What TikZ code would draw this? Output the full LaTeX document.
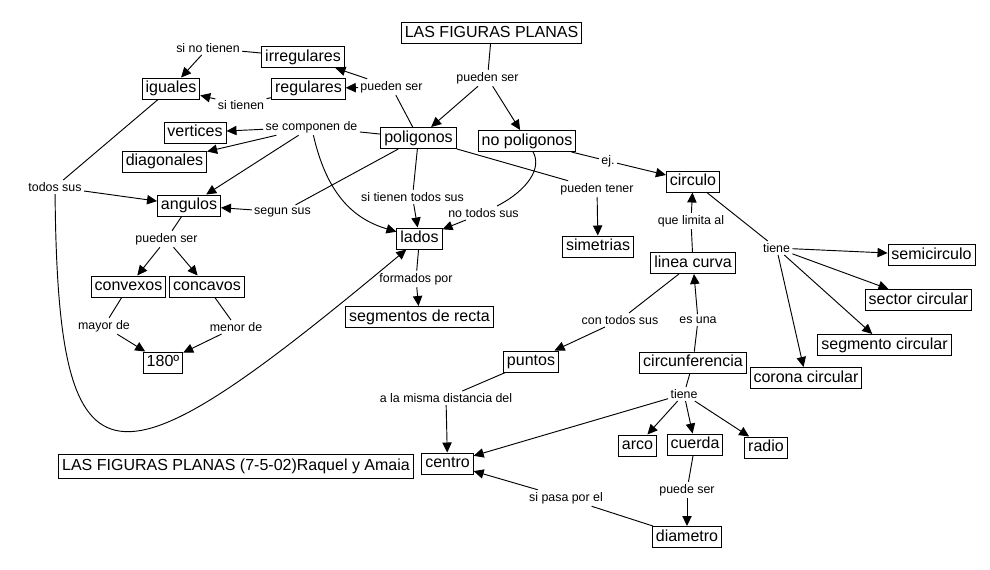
\documentclass[tikz,border=0pt]{standalone}
\usepackage{fontspec}
\setmainfont{Liberation Sans}
\usetikzlibrary{arrows.meta}

\begin{document}
\begin{tikzpicture}[x=0.75pt,y=-0.75pt,line width=0.7pt,
    >={Triangle[length=7.5pt,width=7pt]},
    concept/.style={draw,font=\fontsize{12}{14}\selectfont,inner xsep=2.6pt,inner ysep=2.2pt,text height=8.8pt,text depth=2.6pt},
    link/.style={font=\fontsize{9.3}{11}\selectfont,inner sep=1.5pt}]
    \useasboundingbox (0,0) rectangle (990,569);
    \node[concept] (Fig) at (491.5,33) {LAS FIGURAS PLANAS};
    \node[concept] (Pol) at (418.5,138) {poligonos};
    \node[concept] (NoPol) at (527,141) {no poligonos};
    \node[concept] (Irr) at (303,57) {irregulares};
    \node[concept] (Reg) at (308.5,88.5) {regulares};
    \node[concept] (Igu) at (171,88.5) {iguales};
    \node[concept] (Ver) at (195,132.5) {vertices};
    \node[concept] (Diag) at (164.5,161.5) {diagonales};
    \node[concept] (Ang) at (189,205.5) {angulos};
    \node[concept] (Lad) at (419.5,238.5) {lados};
    \node[concept] (SegR) at (419.5,317) {segmentos de recta};
    \node[concept] (Sim) at (598,246.5) {simetrias};
    \node[concept] (Circ) at (693,181.5) {circulo};
    \node[concept] (LinC) at (693,263) {linea curva};
    \node[concept] (Semi) at (931.5,255) {semicirculo};
    \node[concept] (Sect) at (918.5,300) {sector circular};
    \node[concept] (SegC) at (884.5,345) {segmento circular};
    \node[concept] (Cor) at (806,378) {corona circular};
    \node[concept] (Cfa) at (693,362.5) {circunferencia};
    \node[concept] (Pun) at (531,361.5) {puntos};
    \node[concept] (Cen) at (447.5,463.5) {centro};
    \node[concept] (Arco) at (637.5,445.5) {arco};
    \node[concept] (Cue) at (695,444.5) {cuerda};
    \node[concept] (Rad) at (766,447.5) {radio};
    \node[concept] (Diam) at (687,537) {diametro};
    \node[concept] (Cvx) at (128.5,286.5) {convexos};
    \node[concept] (Ccv) at (207,286.5) {concavos};
    \node[concept] (G180) at (163,362.5) {180º};
    \node[concept,inner ysep=3.5pt] (Tit) at (236,466.5) {LAS FIGURAS PLANAS (7-5-02)Raquel y Amaia};
    \node[link] (L1) at (487.5,78) {pueden ser};
    \node[link] (L2) at (391.5,87) {pueden ser};
    \node[link] (L3) at (208,48) {si no tienen};
    \node[link] (L4) at (241,105) {si tienen};
    \node[link] (L5) at (311.5,127) {se componen de};
    \node[link] (L6) at (55,187) {todos sus};
    \node[link] (L7) at (282.5,212) {segun sus};
    \node[link] (L8) at (412.5,197) {si tienen todos sus};
    \node[link] (L9) at (483.5,213) {no todos sus};
    \node[link] (L10) at (597,189) {pueden tener};
    \node[link] (L11) at (608,161) {ej.};
    \node[link] (L12) at (691,221) {que limita al};
    \node[link] (L13) at (776.5,248) {tiene};
    \node[link] (L14) at (698,320) {es una};
    \node[link] (L15) at (620,320) {con todos sus};
    \node[link] (L16) at (446,398) {a la misma distancia del};
    \node[link] (L17) at (684,394) {tiene};
    \node[link] (L18) at (687,490) {puede ser};
    \node[link] (L19) at (566,498) {si pasa por el};
    \node[link] (L20) at (166.5,239) {pueden ser};
    \node[link] (L21) at (104,326) {mayor de};
    \node[link] (L22) at (236,327) {menor de};
    \node[link] (L23) at (416,279) {formados por};
    \draw (Fig) -- (L1);
    \draw[->] (L1) -- (Pol);
    \draw[->] (L1) -- (NoPol);
    \draw (Pol) -- (L2);
    \draw[->] (L2) -- (Irr);
    \draw[->] (L2) -- (Reg);
    \draw (Irr) -- (L3);
    \draw[->] (L3) -- (Igu);
    \draw (Reg) -- (L4);
    \draw[->] (L4) -- (Igu);
    \draw (Pol) -- (L5);
    \draw[->] (L5) -- (Ver);
    \draw[->] (L5) -- (Diag);
    \draw[->] (L5) -- (Ang);
    \draw[->] (L5) .. controls (326,190) and (350,218) .. (Lad);
    \draw (Igu) -- (L6);
    \draw[->] (L6) -- (Ang);
    \draw[->] (L6) .. controls (58,505) and (112,495) .. (Lad);
    \draw (Pol) -- (L7);
    \draw[->] (L7) -- (Ang);
    \draw (Pol) -- (L8);
    \draw[->] (L8) -- (Lad);
    \draw (NoPol) .. controls (542,168) and (528,190) .. (L9);
    \draw[->] (L9) -- (Lad);
    \draw (Pol) -- (L10);
    \draw[->] (L10) -- (Sim);
    \draw (NoPol) -- (L11);
    \draw[->] (L11) -- (Circ);
    \draw (Lad) -- (L23);
    \draw[->] (L23) -- (SegR);
    \draw (LinC) -- (L12);
    \draw[->] (L12) -- (Circ);
    \draw (Circ) -- (L13);
    \draw[->] (L13) -- (Semi);
    \draw[->] (L13) -- (Sect);
    \draw[->] (L13) -- (SegC);
    \draw[->] (L13) -- (Cor);
    \draw (Cfa) -- (L14);
    \draw[->] (L14) -- (LinC);
    \draw (LinC) -- (L15);
    \draw[->] (L15) -- (Pun);
    \draw (Pun) -- (L16);
    \draw[->] (L16) -- (Cen);
    \draw (Cfa) -- (L17);
    \draw[->] (L17) -- (Cen);
    \draw[->] (L17) -- (Arco);
    \draw[->] (L17) -- (Cue);
    \draw[->] (L17) -- (Rad);
    \draw (Cue) -- (L18);
    \draw[->] (L18) -- (Diam);
    \draw (Diam) -- (L19);
    \draw[->] (L19) -- (Cen);
    \draw (Ang) -- (L20);
    \draw[->] (L20) -- (Cvx);
    \draw[->] (L20) -- (Ccv);
    \draw (Cvx) -- (L21);
    \draw[->] (L21) -- (G180);
    \draw (Ccv) -- (L22);
    \draw[->] (L22) -- (G180);
\end{tikzpicture}
\end{document}
